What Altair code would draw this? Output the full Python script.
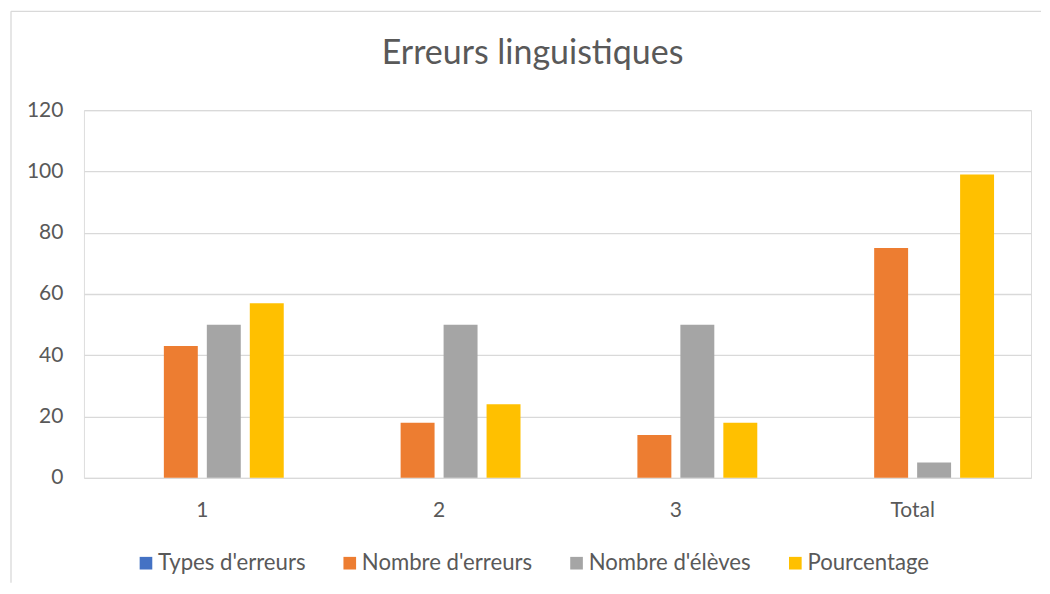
import altair as alt
import pandas as pd

categories = ["1", "2", "3", "Total"]
series = ["Types d'erreurs", "Nombre d'erreurs", "Nombre d'élèves", "Pourcentage"]
types_erreurs = [0, 0, 0, 0]
nombre_erreurs = [43, 18, 14, 75]
nombre_eleves = [50, 50, 50, 5]
pourcentage = [57, 24, 18, 99]
colors = ["#4472C4", "#ED7D31", "#A5A5A5", "#FFC000"]
title_text = ["Erreurs linguistiques"]

rows = []
for s, vals in zip(series, [types_erreurs, nombre_erreurs, nombre_eleves, pourcentage]):
    for c, v in zip(categories, vals):
        rows.append({"cat": c, "serie": s, "val": v})
df = pd.DataFrame(rows)

FONT = "Lato"
TXT = "#595959"
W, H = 948, 368

bars = alt.Chart(df).mark_bar().encode(
    x=alt.X("cat:N", sort=categories, title=None,
            scale=alt.Scale(paddingInner=0, paddingOuter=0),
            axis=alt.Axis(labelAngle=0, ticks=False, domain=False, labelPadding=22,
                          labelFontSize=21, labelColor=TXT, labelFont=FONT)),
    xOffset=alt.XOffset("serie:N", sort=series,
                        scale=alt.Scale(paddingInner=0.21, paddingOuter=0.86)),
    y=alt.Y("val:Q", title=None,
            scale=alt.Scale(domain=[0, 120]),
            axis=alt.Axis(values=[0, 20, 40, 60, 80, 100, 120], ticks=False, domain=False,
                          gridColor="#d9d9d9", gridWidth=1.3, labelPadding=21,
                          labelFontSize=21, labelColor=TXT, labelFont=FONT)),
    color=alt.Color("serie:N", sort=series,
                    scale=alt.Scale(domain=series, range=colors),
                    legend=alt.Legend(title=None, orient="none", direction="horizontal",
                                      legendX=51, legendY=74 + H, padding=0,
                                      symbolType="square", symbolSize=160,
                                      symbolStrokeWidth=0, labelFontSize=22.2,
                                      labelColor=TXT, labelFont=FONT, labelLimit=400,
                                      columnPadding=33, labelOffset=1)),
)

frame = pd.DataFrame({"a": [0]})
top_line = alt.Chart(frame).mark_rule(color="#d9d9d9", strokeWidth=1.3).encode(
    x=alt.value(-73), x2=alt.value(W + 10), y=alt.value(-99),
)
left_line = alt.Chart(frame).mark_rule(color="#d9d9d9", strokeWidth=1.3).encode(
    x=alt.value(-73), y=alt.value(-99), y2=alt.value(H + 105),
)
title = alt.Chart(pd.DataFrame({"t": title_text})).mark_text(
    font=FONT, fontSize=34, color=TXT, align="center", baseline="middle"
).encode(
    text="t:N", x=alt.value(W / 2 - 25), y=alt.value(-56),
)

chart = alt.layer(top_line, left_line, title, bars).properties(
    width=W, height=H,
    padding={"left": 2, "top": 2, "right": 0, "bottom": 0},
).configure_view(stroke=None).configure(background="white")

chart.save("out.html", embed_options={"renderer": "svg", "actions": False})
